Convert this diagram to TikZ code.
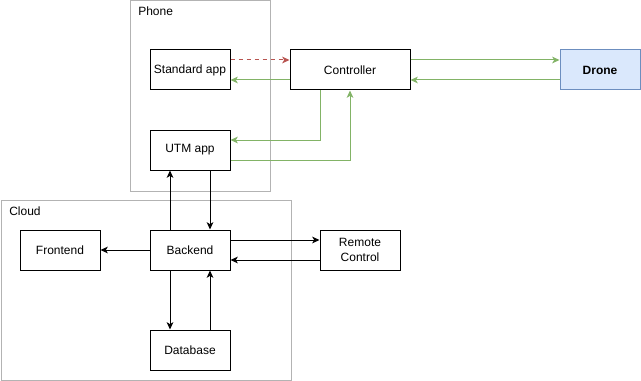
\documentclass[tikz,border=0pt]{standalone}
\usepackage{fontspec}
\setmainfont{Liberation Sans}
\usetikzlibrary{positioning,arrows.meta}

\definecolor{okgreen}{HTML}{82B366}
\definecolor{softred}{HTML}{B85450}
\definecolor{droneblue}{HTML}{DAE8FC}
\definecolor{droneedge}{HTML}{6C8EBF}
\definecolor{groupgray}{HTML}{B3B3B3}

\tikzset{
  box/.style={draw, line width=0.75pt, minimum width=60pt, minimum height=30pt,
    inner sep=1pt, font=\fontsize{9}{11}\selectfont, align=center},
  group/.style={draw=groupgray, line width=0.75pt, inner sep=0pt, anchor=north west},
  grouplabel/.style={anchor=north west, font=\fontsize{9}{11}\selectfont, inner sep=0pt},
  link/.style={->, >={Stealth[length=5.5pt,width=5pt,inset=1.5pt]}, line width=0.75pt},
}

\begin{document}
\begin{tikzpicture}[x=0.75pt, y=-0.75pt]
\useasboundingbox (0,0) rectangle (641,381);

% groups
\node[group, minimum width=105pt, minimum height=142.5pt] (phone) at (130,0.5) {};
\node[grouplabel] (phonelbl) at (138,6.5) {Phone};
\node[group, minimum width=217.5pt, minimum height=135pt] (cloud) at (0.5,200) {};
\node[grouplabel] (cloudlbl) at (9,206.5) {Cloud};

% phone side
\node[box] (std) at (190,70) {Standard app};
\node[box] (utm) at (190,150) {UTM app};
\node[box, minimum width=90pt] (ctrl) at (350,70) {Controller};
\node[box, fill=droneblue, draw=droneedge, font=\fontsize{9}{11}\selectfont\bfseries] (drone) at (600,70) {Drone};

% cloud side
\node[box] (front) at (60,250) {Frontend};
\node[box] (back) at (190,250) {Backend};
\node[box] (remote) at (360,250) {Remote\\Control};
\node[box] (db) at (190,350) {Database};

% radio links
\draw[link, softred, dashed] ([yshift=7.5pt]std.east) -- ([yshift=7.5pt]ctrl.west);
\draw[link, okgreen] ([yshift=-7.5pt]ctrl.west) -- ([yshift=-7.5pt]std.east);
\draw[link, okgreen] ([yshift=7.5pt]ctrl.east) -- ([yshift=7.5pt]drone.west);
\draw[link, okgreen] ([yshift=-7.5pt]drone.west) -- ([yshift=-7.5pt]ctrl.east);
\draw[link, okgreen] ([xshift=-22.5pt]ctrl.south) |- ([yshift=7.5pt]utm.east);
\draw[link, okgreen] ([yshift=-7.5pt]utm.east) -| (ctrl.south);

% backend traffic
\draw[link] ([xshift=-15pt]back.north) -- ([xshift=-15pt]utm.south);
\draw[link] ([xshift=15pt]utm.south) -- ([xshift=15pt]back.north);
\draw[link] (back) -- (front);
\draw[link] ([yshift=7.5pt]back.east) -- ([yshift=7.5pt]remote.west);
\draw[link] ([yshift=-7.5pt]remote.west) -- ([yshift=-7.5pt]back.east);
\draw[link] ([xshift=-15pt]back.south) -- ([xshift=-15pt]db.north);
\draw[link] ([xshift=15pt]db.north) -- ([xshift=15pt]back.south);

\end{tikzpicture}
\end{document}
